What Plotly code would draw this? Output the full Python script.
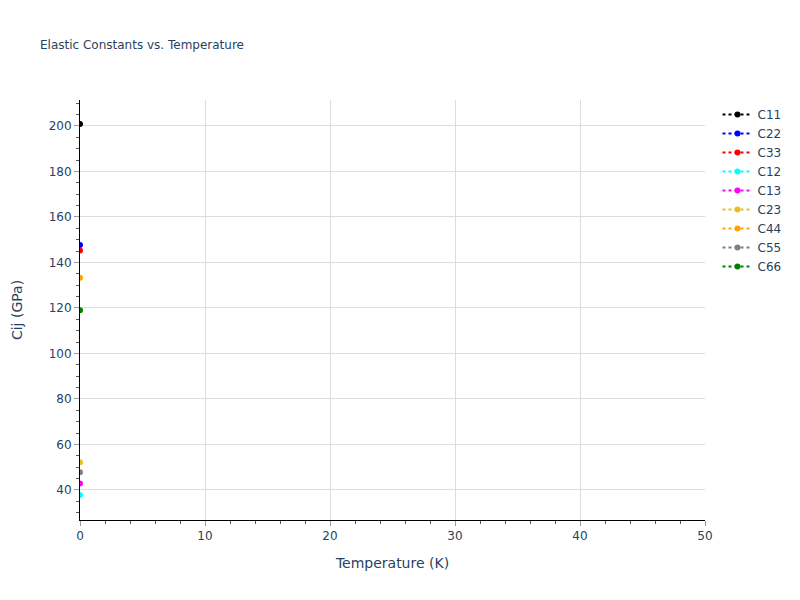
import plotly.graph_objects as go

# elastic constants at T = 0 K
temperature = [0]
names = ["C11", "C22", "C33", "C12", "C13", "C23", "C44", "C55", "C66"]
values = [200.9, 147.7, 145.2, 37.8, 42.8, 52.2, 133.3, 47.8, 119.0]
colors = ["black", "blue", "red", "cyan", "magenta", "#e6c020", "orange", "gray", "green"]

fig = go.Figure()
for name, val, col in zip(names, values, colors):
    fig.add_trace(go.Scatter(
        x=temperature, y=[val],
        mode="lines+markers",
        line=dict(color=col, dash="dot"),
        marker=dict(color=col, size=6),
        name=name,
    ))

# page body adds 8px offset, margins compensate
fig.update_layout(
    width=800, height=600,
    template="plotly_white",
    font=dict(family="DejaVu Sans"),
    margin=dict(l=72, r=103, t=92, b=88),
    title=dict(text="Elastic Constants vs. Temperature", font=dict(size=12),
               x=0.04, y=0.938, yanchor="middle"),
)
fig.update_xaxes(
    title="Temperature (K)", range=[0, 50], dtick=10, automargin=False,
    showline=True, linecolor="black", linewidth=1,
    ticks="outside", tickcolor="#999", gridcolor="#ddd",
    minor=dict(ticks="outside", dtick=2, tickcolor="#555", showgrid=False),
    zeroline=False,
)
fig.update_yaxes(
    title=dict(text="Cij (GPa)", standoff=22), range=[26.8, 211.4], dtick=20, automargin=False,
    showline=True, linecolor="black", linewidth=1,
    ticks="outside", tickcolor="#999", gridcolor="#ddd",
    minor=dict(ticks="outside", dtick=5, tickcolor="#555", showgrid=False),
    zeroline=False,
)

fig.write_html("out.html")
